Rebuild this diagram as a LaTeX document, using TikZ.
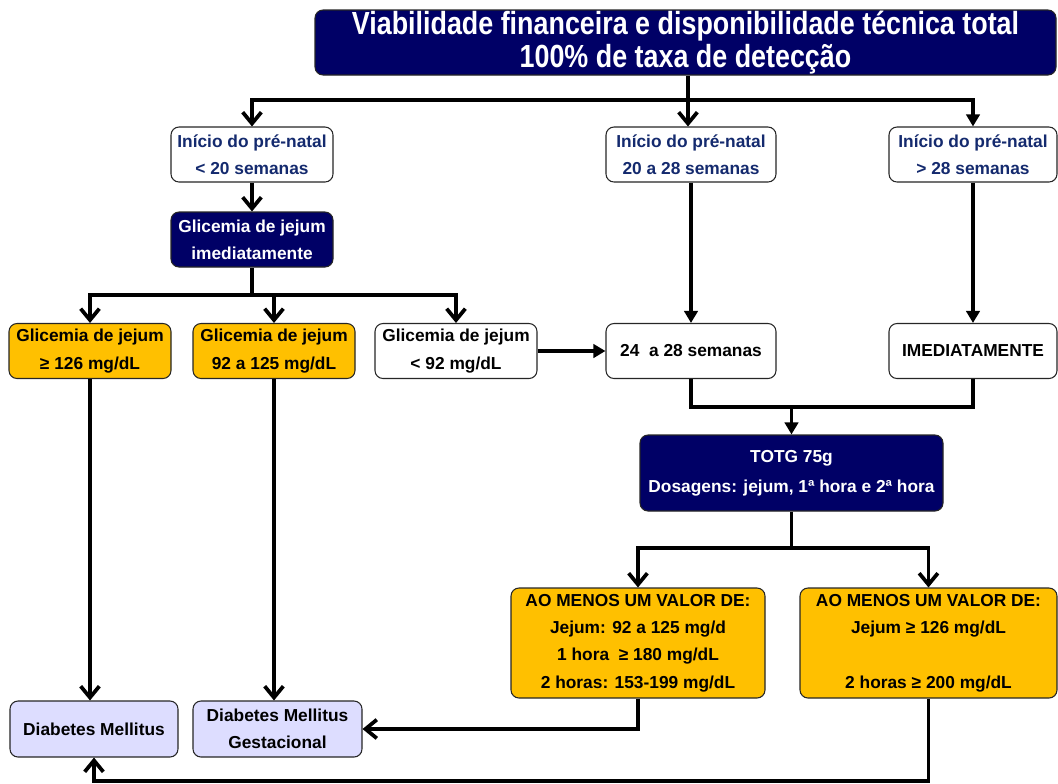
\documentclass[tikz,border=0pt]{standalone}
\usepackage{fontspec}
\setmainfont{Liberation Sans}
\usetikzlibrary{arrows.meta}
\definecolor{navy}{HTML}{000066}
\definecolor{orangeY}{HTML}{FFC000}
\definecolor{lav}{HTML}{DDDDFF}
\definecolor{navytext}{HTML}{142A6E}
\tikzset{
  box/.style={draw=black!85, line width=0.8pt, rounded corners=6pt, align=center, inner sep=0pt,
    font=\fontsize{13}{20.5}\selectfont\bfseries},
  navybox/.style={box, fill=navy, text=white},
  orangebox/.style={box, fill=orangeY},
  whitebox/.style={box, fill=white},
  lavbox/.style={box, fill=lav},
  conn/.style={line width=2.8pt},
  vtip/.style={conn, -{Straight Barb[length=8.5pt,width=14pt]}},
  ftip/.style={conn, -{Triangle[length=9pt,width=10pt]}},
}
\begin{document}
\begin{tikzpicture}[x=0.75pt,y=-0.75pt]
\useasboundingbox (0,0) rectangle (1058,783);

\node[navybox, minimum width=555.75pt, minimum height=48.75pt, font=\fontsize{24}{24.5}\selectfont\bfseries] (title) at (685.5,42.5)
  {\scalebox{0.84}[1]{Viabilidade financeira e disponibilidade técnica total}\\\scalebox{0.84}[1]{100\% de taxa de detecção}};

\node[whitebox, text=navytext, minimum width=121.5pt, minimum height=41.25pt] (A) at (252,154.5) {Início do pré-natal\\< 20 semanas};
\node[whitebox, text=navytext, minimum width=127.5pt, minimum height=41.25pt] (B) at (691,154.5) {Início do pré-natal\\20 a 28 semanas};
\node[whitebox, text=navytext, minimum width=126pt, minimum height=41.25pt] (C) at (973,154.5) {Início do pré-natal\\> 28 semanas};

\node[navybox, minimum width=121.5pt, minimum height=41.25pt] (D) at (252,239.5) {Glicemia de jejum\\imediatamente};

\node[orangebox, minimum width=121.5pt, minimum height=41.25pt] (E) at (90,351) {Glicemia de jejum\\≥ 126 mg/dL};
\node[orangebox, minimum width=121.5pt, minimum height=41.25pt] (F) at (274,351) {Glicemia de jejum\\92 a 125 mg/dL};
\node[whitebox, minimum width=121.5pt, minimum height=41.25pt] (G) at (456,351) {Glicemia de jejum\\< 92 mg/dL};
\node[whitebox, minimum width=127.5pt, minimum height=41.25pt] (H) at (691,351) {24\ \ a 28 semanas};
\node[whitebox, minimum width=126pt, minimum height=41.25pt] (I) at (973,351) {IMEDIATAMENTE};

\node[navybox, minimum width=227.25pt, minimum height=57pt, font=\fontsize{13}{22.5}\selectfont\bfseries] (T) at (791.5,473) {TOTG 75g\\Dosagens: jejum, 1ª hora e 2ª hora};

\node[orangebox, minimum width=190.5pt, minimum height=82.5pt] (J) at (638,643)
  {AO MENOS UM VALOR DE:\\Jejum: 92 a 125 mg/d\\1 hora\ \ ≥ 180 mg/dL\\2 horas: 153-199 mg/dL};
\node[orangebox, minimum width=192.75pt, minimum height=82.5pt] (K) at (928.5,643)
  {AO MENOS UM VALOR DE:\\Jejum ≥ 126 mg/dL\\\strut\\2 horas ≥ 200 mg/dL};

\node[lavbox, minimum width=126pt, minimum height=42pt] (L) at (94,729) {Diabetes Mellitus};
\node[lavbox, minimum width=126.75pt, minimum height=42pt] (M) at (277.5,729) {Diabetes Mellitus\\Gestacional};

% connectors
\coordinate (b1) at (688,100);
\draw[conn] (title.south -| b1) -- (b1);
\draw[vtip] (b1) -| (A.north);
\draw[vtip] (b1) -- (b1 |- B.north);
\draw[ftip] (b1) -| (C.north);
\draw[vtip] (A.south) -- (D.north);
\coordinate (b2) at (252,295);
\draw[conn] (D.south) -- (b2);
\draw[vtip] (b2) -| (E.north);
\draw[vtip] (b2) -| (F.north);
\draw[vtip] (b2) -| (G.north);
\draw[ftip] (G.east) -- (H.west);
\draw[ftip] (B.south) -- (H.north);
\draw[ftip] (C.south) -- (I.north);
\coordinate (b3) at (791.5,407);
\draw[conn] (H.south) |- (b3);
\draw[conn] (I.south) |- (b3);
\draw[ftip] (b3) -- (T.north);
\coordinate (b4) at (791.5,548);
\draw[conn] (T.south) -- (b4);
\draw[vtip] (b4) -| (J.north);
\draw[vtip] (b4) -| (K.north);
\draw[vtip] (E.south) -- (E.south |- L.north);
\draw[vtip] (F.south) -- (F.south |- M.north);
\draw[vtip] (J.south) |- (M.east);
\coordinate (b5) at (928.5,781);
\draw[vtip] (K.south) |- (b5) -| (L.south);
\end{tikzpicture}
\end{document}
